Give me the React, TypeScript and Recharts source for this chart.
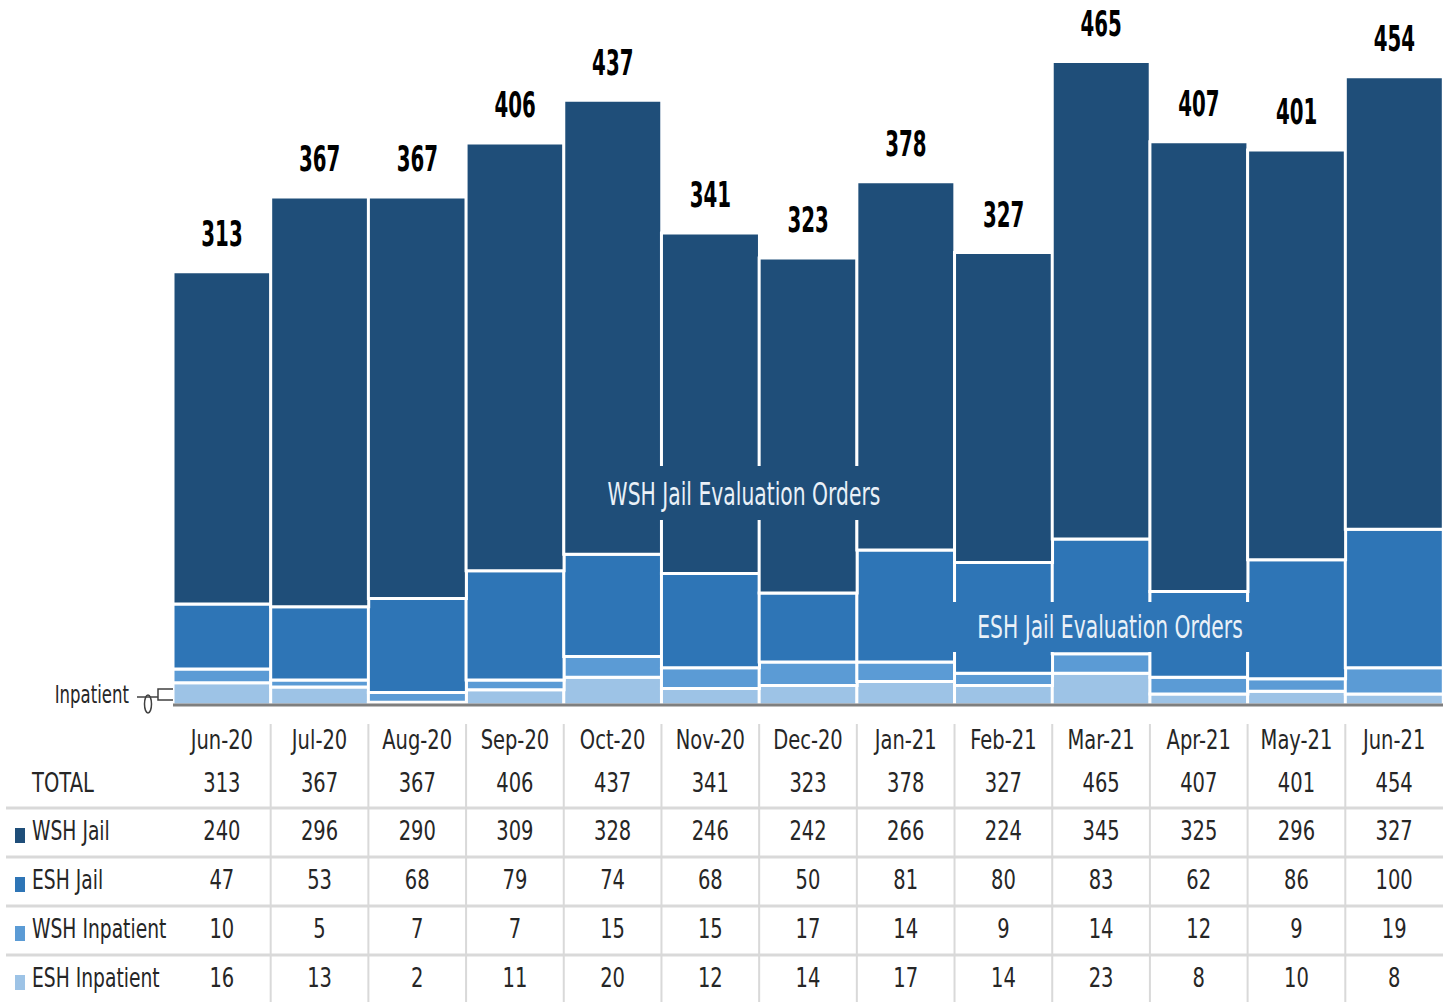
import { Bar, BarChart, Customized, LabelList, XAxis, YAxis } from "recharts";

const months = ["Jun-20", "Jul-20", "Aug-20", "Sep-20", "Oct-20", "Nov-20", "Dec-20", "Jan-21", "Feb-21", "Mar-21", "Apr-21", "May-21", "Jun-21"];
const totals = [313, 367, 367, 406, 437, 341, 323, 378, 327, 465, 407, 401, 454];
const wshJail = [240, 296, 290, 309, 328, 246, 242, 266, 224, 345, 325, 296, 327];
const eshJail = [47, 53, 68, 79, 74, 68, 50, 81, 80, 83, 62, 86, 100];
const wshInpatient = [10, 5, 7, 7, 15, 15, 17, 14, 9, 14, 12, 9, 19];
const eshInpatient = [16, 13, 2, 11, 20, 12, 14, 17, 14, 23, 8, 10, 8];

const seriesMeta = [
  { key: "wshJail", name: "WSH Jail", color: "#1F4E79", values: wshJail },
  { key: "eshJail", name: "ESH Jail", color: "#2E75B6", values: eshJail },
  { key: "wshInpatient", name: "WSH Inpatient", color: "#5B9BD5", values: wshInpatient },
  { key: "eshInpatient", name: "ESH Inpatient", color: "#9DC3E6", values: eshInpatient },
];

const data = months.map((month, i) => ({
  month,
  total: totals[i],
  wshJail: wshJail[i],
  eshJail: eshJail[i],
  wshInpatient: wshInpatient[i],
  eshInpatient: eshInpatient[i],
}));

const W = 1451;
const H = 1002;
const LEFT = 173;
const RIGHT = 8;
const TOP = 13;
const BASE = 705;
const BAND = (W - LEFT - RIGHT) / months.length;
const FONT = "'DejaVu Sans', sans-serif";
const TXT = "#262626";
const GRID = "#d9d9d9";

const rowY = { month: 740, total: 783, rows: [831, 880, 929, 978] };
const hLines = [808, 857, 906, 955];

// DejaVu is much wider than the condensed face in the picture, so squeeze it
function NText(props: any) {
  const { x, y, sx = 0.75, size = 26, anchor = "middle", fill = TXT, weight = "normal", children } = props;
  return (
    <text
      transform={`translate(${x},${y}) scale(${sx},1)`}
      fontFamily={FONT}
      fontSize={size}
      fontWeight={weight}
      fill={fill}
      textAnchor={anchor}
      dominantBaseline="central"
    >
      {children}
    </text>
  );
}

function TableTick(props: any) {
  const { x, payload } = props;
  const i = payload.index;
  return (
    <g>
      {i > 0 ? <line x1={x - BAND / 2} x2={x - BAND / 2} y1={724} y2={H} stroke={GRID} strokeWidth={2} /> : null}
      <NText x={x} y={rowY.month}>{payload.value}</NText>
      <NText x={x} y={rowY.total}>{totals[i]}</NText>
      {seriesMeta.map((s, r) => (
        <NText key={s.key} x={x} y={rowY.rows[r]}>{s.values[i]}</NText>
      ))}
    </g>
  );
}

function TableFrame() {
  return (
    <g>
      {hLines.map((y) => (
        <line key={y} x1={6} x2={W - RIGHT} y1={y} y2={y} stroke={GRID} strokeWidth={3} />
      ))}
      <NText x={32} y={rowY.total} anchor="start">TOTAL</NText>
      {seriesMeta.map((s, r) => (
        <g key={s.key}>
          <rect x={15} y={rowY.rows[r] - 3} width={10} height={15} fill={s.color} />
          <NText x={32} y={rowY.rows[r]} anchor="start" sx={0.72}>{s.name}</NText>
        </g>
      ))}
    </g>
  );
}

function TotalLabel(props: any) {
  const { x, y, width, value } = props;
  return (
    <NText x={x + width / 2} y={y - 38} size={36} sx={0.55} weight="bold" fill="#000">
      {value}
    </NText>
  );
}

// annotations that sit on top of the bars
function Annotations() {
  return (
    <svg width={W} height={H} style={{ position: "absolute", left: 0, top: 0, pointerEvents: "none" }}>
      <rect x={600} y={466} width={290} height={54} fill="#1F4E79" />
      <NText x={744} y={494} size={32} sx={0.635} fill="#EAF1F8">WSH Jail Evaluation Orders</NText>
      <rect x={951} y={602} width={300} height={50} fill="#2E75B6" />
      <NText x={1110} y={627} size={32} sx={0.635} fill="#EAF1F8">ESH Jail Evaluation Orders</NText>
      <NText x={129} y={695} size={24} sx={0.69} anchor="end">Inpatient</NText>
      <line x1={137} x2={158} y1={697} y2={697} stroke="#404040" strokeWidth={1.5} />
      <ellipse cx={148} cy={704} rx={3.5} ry={9} fill="none" stroke="#404040" strokeWidth={1.5} />
      <path d="M173 689 H158 V700 H173" fill="none" stroke="#404040" strokeWidth={1.5} />
    </svg>
  );
}

export default function App() {
  return (
    <div style={{ position: "absolute", left: 0, top: 0, width: W, height: H, background: "#fff" }}>
      <BarChart
        width={W}
        height={H}
        data={data}
        margin={{ top: TOP, right: RIGHT, left: LEFT, bottom: 0 }}
        barCategoryGap={0}
        barGap={0}
      >
        <YAxis hide domain={[0, 500]} width={0} />
        <XAxis
          dataKey="month"
          interval={0}
          height={H - BASE}
          tickLine={false}
          axisLine={{ stroke: "#7f7f7f", strokeWidth: 3 }}
          tick={<TableTick />}
        />
        <Bar dataKey="eshInpatient" stackId="a" fill="#9DC3E6" stroke="#fff" strokeWidth={3} isAnimationActive={false} />
        <Bar dataKey="wshInpatient" stackId="a" fill="#5B9BD5" stroke="#fff" strokeWidth={3} isAnimationActive={false} />
        <Bar dataKey="eshJail" stackId="a" fill="#2E75B6" stroke="#fff" strokeWidth={3} isAnimationActive={false} />
        <Bar dataKey="wshJail" stackId="a" fill="#1F4E79" stroke="#fff" strokeWidth={3} isAnimationActive={false}>
          <LabelList dataKey="total" content={<TotalLabel />} />
        </Bar>
        <Customized component={<TableFrame />} />
      </BarChart>
      <Annotations />
    </div>
  );
}
